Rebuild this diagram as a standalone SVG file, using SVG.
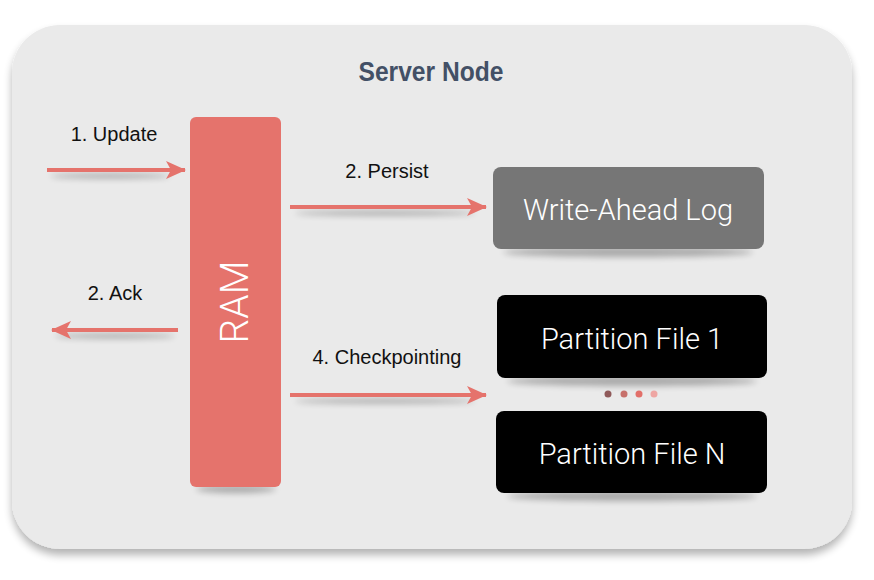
<svg xmlns="http://www.w3.org/2000/svg" width="874" height="580" viewBox="0 0 874 580">
<defs>
<filter id="outerShadow" x="-5%" y="-5%" width="110%" height="115%">
<feGaussianBlur in="SourceAlpha" stdDeviation="4"/>
<feOffset dy="6"/>
<feComponentTransfer><feFuncA type="linear" slope="0.3"/></feComponentTransfer>
<feMerge><feMergeNode/><feMergeNode in="SourceGraphic"/></feMerge>
</filter>
<filter id="blur" x="-20%" y="-200%" width="140%" height="500%">
<feGaussianBlur stdDeviation="3"/>
</filter>
<marker id="ah" viewBox="0 0 20 18" refX="19" refY="9" markerWidth="20" markerHeight="18" markerUnits="userSpaceOnUse" orient="auto">
<path d="M0,0 L20,9 L0,18 L5,9 Z" fill="#e5736c"/>
</marker>
<style>
.lbl{font-family:"Liberation Sans",Arial,sans-serif;font-size:20px;fill:#111;text-anchor:middle}
.box{font-family:Roboto,"Liberation Sans",sans-serif;font-weight:300;font-size:29px;fill:#fff;text-anchor:middle}
.arr{stroke:#e5736c;stroke-width:4;fill:none;marker-end:url(#ah)}
.sh{fill:#000;opacity:0.28;filter:url(#blur)}
</style>
</defs>
<rect width="874" height="580" fill="#ffffff"/>
<g id="server-node">
<rect x="12" y="25" width="840" height="524" rx="48" ry="48" fill="#eaeaea" filter="url(#outerShadow)"/>
<text x="431" y="81" font-family="Liberation Sans,Arial,sans-serif" font-weight="bold" font-size="27" fill="#435066" text-anchor="middle" textLength="145" lengthAdjust="spacingAndGlyphs">Server Node</text>
</g>
<g id="ram">
<ellipse class="sh" cx="236" cy="489" rx="40" ry="4"/>
<rect x="190" y="117" width="91" height="370" rx="6" fill="#e5736c"/>
<text x="0" y="0" transform="translate(248,302) rotate(-90)" font-family="Roboto,'Liberation Sans',sans-serif" font-weight="300" font-size="39" fill="#fff" text-anchor="middle">RAM</text>
</g>
<g id="wal">
<ellipse class="sh" cx="628" cy="252" rx="125" ry="5"/>
<rect x="493" y="167" width="271" height="82" rx="8" fill="#767676"/>
<text class="box" x="628" y="220">Write-Ahead Log</text>
</g>
<g id="partition-1">
<ellipse class="sh" cx="632" cy="381" rx="125" ry="5"/>
<rect x="497" y="295" width="270" height="83" rx="8" fill="#000"/>
<text class="box" x="632" y="349">Partition File 1</text>
</g>
<g id="partition-n">
<ellipse class="sh" cx="632" cy="496" rx="125" ry="5"/>
<rect x="496" y="411" width="271" height="82" rx="8" fill="#000"/>
<text class="box" x="632" y="464">Partition File N</text>
</g>
<g id="dots">
<circle cx="608" cy="394" r="3.5" fill="#8f5a5a"/>
<circle cx="624" cy="394" r="3.5" fill="#c7706b"/>
<circle cx="639" cy="394" r="3.5" fill="#e26f69"/>
<circle cx="654" cy="394" r="3.5" fill="#eea6a3"/>
</g>
<g id="connectors">
<ellipse class="sh" cx="110" cy="176" rx="60" ry="2.5"/>
<ellipse class="sh" cx="115" cy="336" rx="60" ry="2.5"/>
<ellipse class="sh" cx="385" cy="213" rx="90" ry="2.5"/>
<ellipse class="sh" cx="385" cy="401" rx="90" ry="2.5"/>
<line class="arr" x1="47" y1="170" x2="185" y2="170"/>
<line class="arr" x1="178" y1="330" x2="52" y2="330"/>
<line class="arr" x1="290" y1="207" x2="486" y2="207"/>
<line class="arr" x1="290" y1="395" x2="486" y2="395"/>
<text class="lbl" x="114" y="141">1. Update</text>
<text class="lbl" x="115" y="300">2. Ack</text>
<text class="lbl" x="387" y="178">2. Persist</text>
<text class="lbl" x="387" y="364">4. Checkpointing</text>
</g>
</svg>
